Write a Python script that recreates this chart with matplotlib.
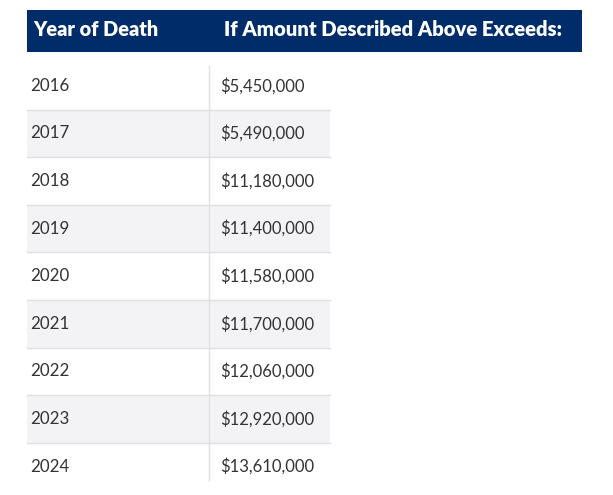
import matplotlib.pyplot as plt

years = ["2016", "2017", "2018", "2019", "2020", "2021", "2022", "2023", "2024"]
amounts = ["$5,450,000", "$5,490,000", "$11,180,000", "$11,400,000", "$11,580,000",
           "$11,700,000", "$12,060,000", "$12,920,000", "$13,610,000"]
headers = ["Year of Death", "If Amount Described Above Exceeds:"]

W, H = 613, 495
NAVY = "#002d6a"
SHADE = "#f3f2f5"
LINE = "#e0dfe4"
TEXT = "#333333"

fig = plt.figure(figsize=(W / 100, H / 100), dpi=100)
ax = fig.add_axes([0, 0, 1, 1])
ax.set_xlim(0, W)
ax.set_ylim(H, 0)
ax.axis("off")

# header band
left, right = 27, 582
ax.add_patch(plt.Rectangle((left, 10), right - left, 42, color=NAVY, lw=0))
ax.text(33, 30, headers[0], color="white", fontsize=14.3, fontweight="heavy",
        family="Lato", va="center")
ax.text(224, 30, headers[1], color="white", fontsize=14.6, fontweight="heavy",
        family="Lato", va="center")

# body rows
top, row_h = 62, 47.6
table_right = 330
col_x = 209
for i, (yr, amt) in enumerate(zip(years, amounts)):
    y0 = top + i * row_h
    if i % 2 == 1:
        ax.add_patch(plt.Rectangle((left, y0), table_right - left, row_h, color=SHADE, lw=0))
    if i > 0:
        ax.plot([left, table_right], [y0, y0], color=LINE, lw=1)
    yc = y0 + row_h / 2
    ax.text(30, yc, yr, color=TEXT, fontsize=12.2, family="Lato", va="center")
    ax.text(220, yc, amt, color=TEXT, fontsize=12, family="Lato", va="center")

ax.plot([col_x, col_x], [top + 4, top + len(years) * row_h - 10], color=LINE, lw=1)

fig.savefig("out.png", dpi=100)
plt.close(fig)
